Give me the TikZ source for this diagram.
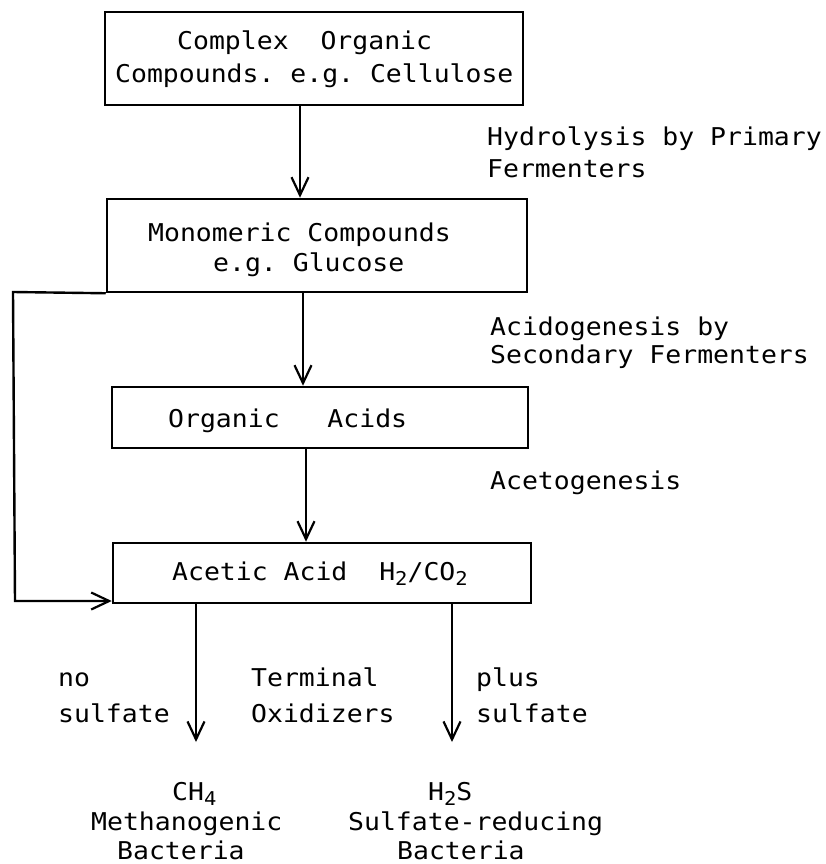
\documentclass[tikz,border=0pt]{standalone}
\usepackage{fontspec}
\newfontfamily\diagfont{DejaVu Sans Mono}[FakeStretch=1.08]
\usetikzlibrary{arrows.meta}
\newcommand\subsc[1]{\raisebox{-5pt}{\fontsize{19}{19}\selectfont #1}}
\tikzset{
  boxshape/.style={draw, line width=2.5pt, inner sep=0pt},
  txt/.style={anchor=base west, inner sep=0pt, font=\diagfont\fontsize{24.5}{30}\selectfont\frenchspacing},
  arr/.style={line width=2.4pt, -{Straight Barb[length=18pt,width=17pt,line width=2.2pt]}}
}
\begin{document}
\begin{tikzpicture}[x=1pt,y=-1pt]
\useasboundingbox (0,0) rectangle (826,864);
% boxes
\node[boxshape, minimum width=418pt, minimum height=93pt] (box1) at (314,58.5) {};
\node[boxshape, minimum width=420pt, minimum height=93pt] (box2) at (317,245.5) {};
\node[boxshape, minimum width=416pt, minimum height=61pt] (box3) at (320,417.5) {};
\node[boxshape, minimum width=418pt, minimum height=60pt] (box4) at (322,573) {};
% box texts
\node[txt] (t1a) at (177,50) {Complex\ \ Organic};
\node[txt] (t1b) at (115,83) {Compounds. e.g. Cellulose};
\node[txt] (t2a) at (148,241) {Monomeric Compounds};
\node[txt] (t2b) at (213,271) {e.g. Glucose};
\node[txt] (t3) at (168,427) {Organic\ \ \ Acids};
\node[txt] (t4) at (172,580) {Acetic Acid\ \ H\subsc{2}/CO\subsc{2}};
% side labels
\node[txt] (l1a) at (487,145) {Hydrolysis by Primary};
\node[txt] (l1b) at (487,177) {Fermenters};
\node[txt] (l2a) at (490,335) {Acidogenesis by};
\node[txt] (l2b) at (490,363) {Secondary Fermenters};
\node[txt] (l3) at (490,489) {Acetogenesis};
\node[txt] (n1a) at (58,686) {no};
\node[txt] (n1b) at (58,722) {sulfate};
\node[txt] (n2a) at (251,686) {Terminal};
\node[txt] (n2b) at (251,722) {Oxidizers};
\node[txt] (n3a) at (476,686) {plus};
\node[txt] (n3b) at (476,722) {sulfate};
% products
\node[txt] (p1a) at (172,800) {CH\subsc{4}};
\node[txt] (p1b) at (91,830) {Methanogenic};
\node[txt] (p1c) at (117,859) {Bacteria};
\node[txt] (p2a) at (428,800) {H\subsc{2}S};
\node[txt] (p2b) at (348,830) {Sulfate-reducing};
\node[txt] (p2c) at (397,859) {Bacteria};
% connectors
\coordinate (x1) at (300,0);
\coordinate (x2) at (303,0);
\coordinate (x3) at (306,0);
\draw[arr] (box1.south -| x1) -- (box2.north -| x1);
\draw[arr] (box2.south -| x2) -- (box3.north -| x2);
\draw[arr] (box3.south -| x3) -- (box4.north -| x3);
\coordinate (fbtop) at (13,292);
\coordinate (fbbot) at (15,601);
\draw[arr] (box2.south west) -- (fbtop) -- (fbbot) -- (fbbot -| box4.west);
\coordinate (m1) at (196,742);
\coordinate (m2) at (452,742);
\draw[arr] (box4.south -| m1) -- (m1);
\draw[arr] (box4.south -| m2) -- (m2);
\end{tikzpicture}
\end{document}
